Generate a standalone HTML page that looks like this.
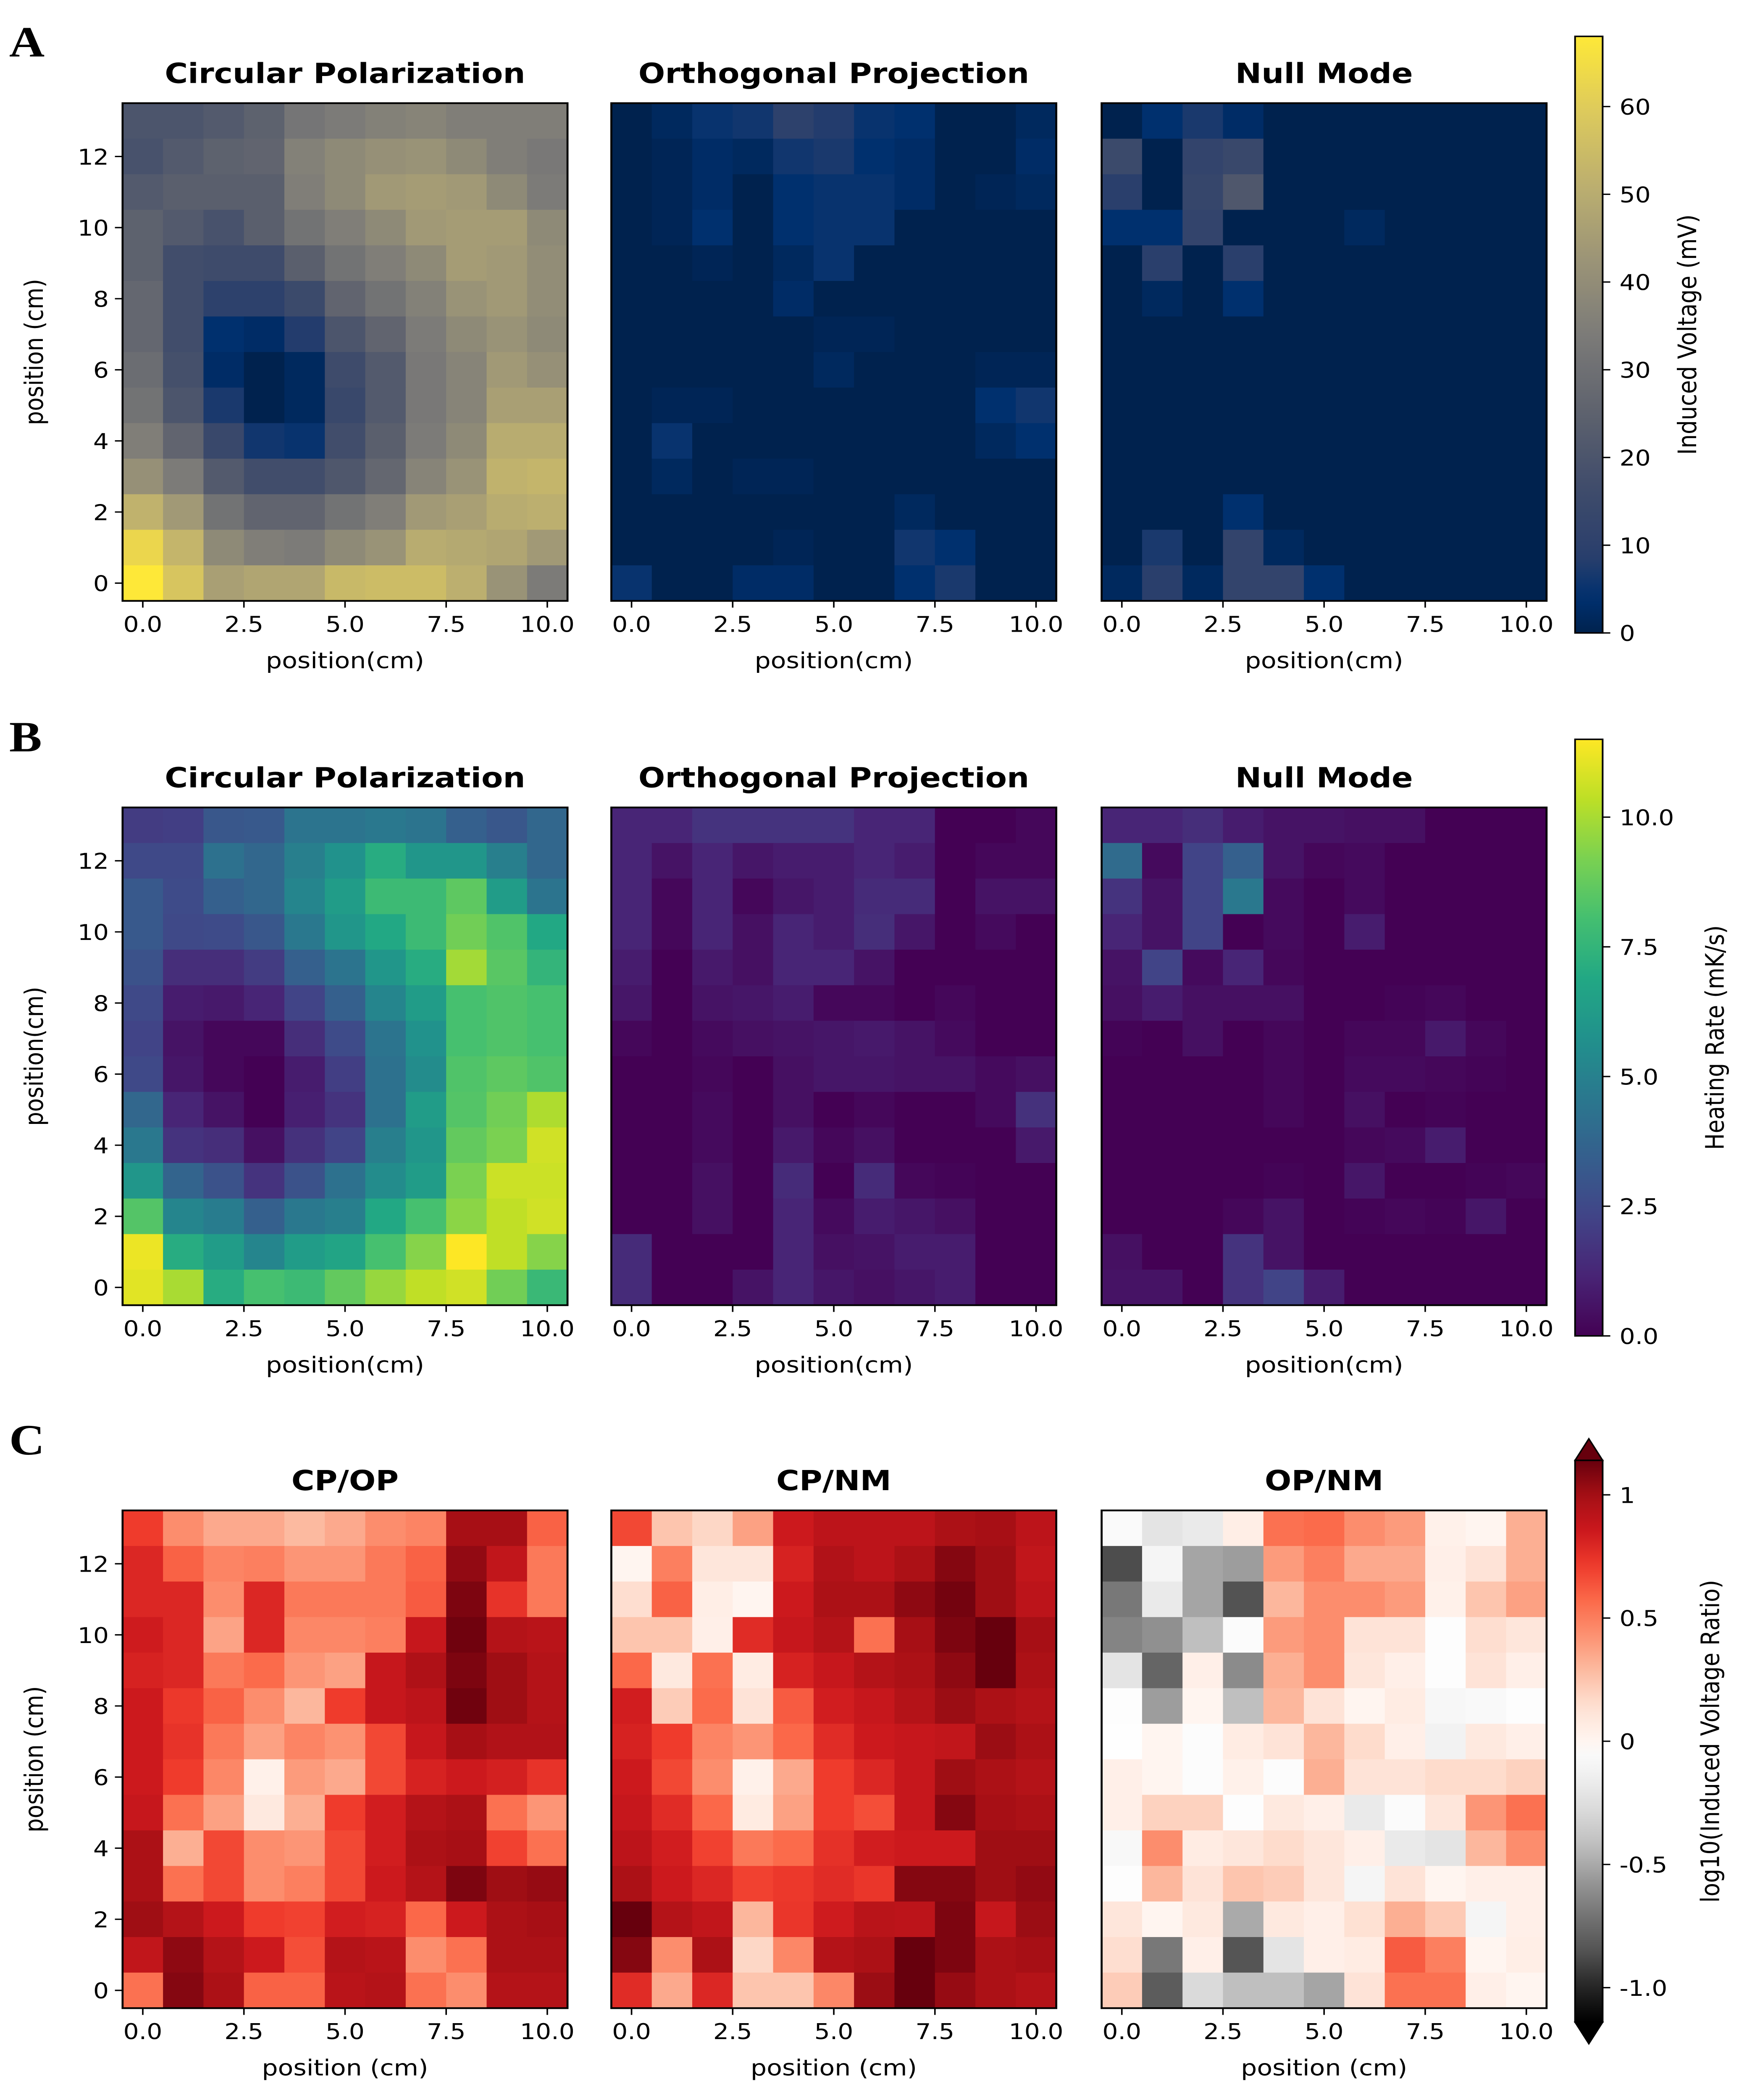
<!DOCTYPE html>
<html><head><meta charset="utf-8"><style>
html,body{margin:0;padding:0;background:#fff;width:100%;height:100%;overflow:hidden;}
svg{display:block;position:absolute;left:0;top:0;width:100vw;height:100vh;}
text{font-family:"DejaVu Sans","Liberation Sans",sans-serif;fill:#000;}
</style></head><body>
<svg id="fig" viewBox="0 0 1135 1559.4" preserveAspectRatio="none" xmlns="http://www.w3.org/2000/svg">
<rect x="0" y="0" width="1135" height="1560" fill="#fff"/>
<defs id="defs"></defs>
</svg>
<script>
// ---------- DATA (rows listed from y=13 at top down to y=0) ----------
const xCats = [0,1,2,3,4,5,6,7,8,9,10];
const yCats = [13,12,11,10,9,8,7,6,5,4,3,2,1,0];
const xTickVals = [0,2.5,5,7.5,10];
const xTickLabels = ["0.0","2.5","5.0","7.5","10.0"];
const yTickVals = [0,2,4,6,8,10,12];
const yTickLabels = ["0","2","4","6","8","10","12"];

const vCP = [
[20,20,22,25,32,34,36,37,35,35,35],
[19,22,25,26,36,39,41,42,39,35,33],
[22,24,24,24,35,39,44,45,44,39,34],
[25,22,19,24,31,35,39,44,45,45,39],
[25,17,16,16,24,31,35,39,45,44,40],
[27,17,10,10,15,26,31,36,42,44,40],
[27,17,4,3,8,20,26,34,39,42,39],
[29,18,3,0,2,16,22,33,37,44,41],
[31,20,7,0,2,14,22,33,37,46,46],
[35,26,14,6,5,17,24,34,39,50,50],
[41,34,22,17,17,21,27,37,42,52,53],
[52,44,31,26,26,31,35,44,46,50,51],
[63,53,39,35,34,39,42,50,49,48,44],
[68,58,46,48,48,54,55,55,51,42,34]];
const vOP = [
[0,2,5,6,10,8,5,4,0,0,2],
[0,1,3,2,6,7,4,3,0,0,3],
[0,1,3,0,4,5,5,3,0,1,2],
[0,1,4,0,4,5,5,0,0,0,0],
[0,0,1,0,2,5,0,0,0,0,0],
[0,0,0,0,3,0,0,0,0,0,0],
[0,0,0,0,0,1,1,0,0,0,0],
[0,0,0,0,0,2,0,0,0,1,1],
[0,1,1,0,0,0,0,0,0,4,6],
[0,5,0,0,0,0,0,0,0,2,4],
[0,2,0,1,1,0,0,0,0,0,0],
[0,0,0,0,0,0,0,2,0,0,0],
[0,0,0,0,1,0,0,6,4,0,0],
[5,0,0,3,3,0,0,4,7,0,0]];
const vNM = [
[0,4,7,3,0,0,0,0,0,0,0],
[15,0,12,14,0,0,0,0,0,0,0],
[9,0,13,21,0,0,0,0,0,0,0],
[4,4,12,0,0,0,2,0,0,0,0],
[0,9,0,9,0,0,0,0,0,0,0],
[0,2,0,4,0,0,0,0,0,0,0],
[0,0,0,0,0,0,0,0,0,0,0],
[0,0,0,0,0,0,0,0,0,0,0],
[0,0,0,0,0,0,0,0,0,0,0],
[0,0,0,0,0,0,0,0,0,0,0],
[0,0,0,0,0,0,0,0,0,0,0],
[0,0,0,4,0,0,0,0,0,0,0],
[0,7,0,12,2,0,0,0,0,0,0],
[2,9,2,12,12,4,0,0,0,0,0]];

const hCP = [
[2.0,2.1,3.1,3.2,4.4,4.4,4.6,4.4,3.5,3.1,3.8],
[2.5,2.5,4.3,3.8,4.9,5.8,7.1,6.0,6.0,4.9,3.8],
[3.2,2.6,3.5,3.8,5.2,6.3,7.8,7.8,8.6,6.3,4.4],
[3.2,2.5,2.6,3.1,4.6,6.0,6.9,7.8,9.0,8.3,6.9],
[2.9,1.5,1.5,2.0,3.5,4.4,6.0,7.1,9.9,8.5,7.5],
[2.5,0.9,0.8,1.2,2.3,3.5,5.2,6.3,8.1,8.3,8.1],
[2.3,0.6,0.2,0.2,1.5,2.6,4.4,5.8,8.1,8.3,8.1],
[2.5,0.7,0.2,0.0,0.9,2.1,4.3,5.5,8.3,8.6,8.3],
[3.8,1.2,0.6,0.0,1.0,1.7,4.3,6.3,8.4,9.0,10.1],
[4.6,1.7,1.5,0.5,1.6,2.3,4.9,6.0,8.7,9.2,10.7],
[6.0,3.7,2.9,1.7,2.9,4.3,5.5,6.3,9.2,10.6,10.6],
[8.4,5.2,4.8,3.5,4.6,4.9,6.9,8.1,9.5,10.4,10.7],
[11.2,7.1,6.3,5.2,6.3,6.7,8.1,9.4,11.5,10.4,9.4],
[11.0,10.0,7.1,8.1,7.8,8.7,9.7,10.4,10.7,9.0,7.7]];
const hOP = [
[1.2,1.2,1.7,1.7,1.7,1.7,1.2,1.2,0,0,0.2],
[1.2,0.6,1.2,0.7,0.9,0.9,1.2,0.9,0,0.2,0.2],
[1.2,0.2,1.2,0.2,0.7,0.9,1.4,1.4,0,0.6,0.6],
[1.2,0.2,1.2,0.5,1.2,0.9,1.5,0.7,0,0.3,0],
[0.9,0,0.8,0.5,1.2,1.2,0.6,0,0,0,0],
[0.7,0,0.6,0.7,0.9,0.2,0.2,0,0.2,0,0],
[0.2,0,0.3,0.5,0.6,0.7,0.8,0.6,0.3,0,0],
[0,0,0.2,0,0.5,0.7,0.7,0.6,0.6,0.3,0.5],
[0,0,0.3,0,0.5,0,0.2,0,0,0.3,1.6],
[0,0,0.3,0,0.8,0.2,0.5,0,0,0,0.8],
[0,0,0.5,0,1.4,0,1.4,0.2,0.1,0,0],
[0,0,0.5,0,1.2,0.3,0.9,0.7,0.5,0,0],
[1.4,0,0,0,1.2,0.5,0.6,0.9,0.9,0,0],
[1.4,0,0,0.6,1.2,0.7,0.5,0.7,0.9,0,0]];
const hNM = [
[1.2,1.2,1.5,0.9,0.6,0.6,0.5,0.5,0,0,0],
[4.0,0.3,2.3,3.5,0.6,0.2,0.3,0,0,0,0],
[1.7,0.6,2.3,4.6,0.3,0,0.3,0,0,0,0],
[1.2,0.6,2.3,0,0.3,0,0.9,0,0,0,0],
[0.6,2.3,0.3,1.2,0.2,0,0,0,0,0,0],
[0.5,0.9,0.5,0.5,0.5,0,0,0.1,0.2,0,0],
[0.1,0,0.5,0,0.2,0,0.2,0.2,0.8,0.2,0],
[0,0,0,0,0.2,0,0.3,0.3,0.2,0.1,0],
[0,0,0,0,0.2,0,0.5,0,0.1,0,0],
[0,0,0,0,0,0,0.2,0.3,0.9,0,0],
[0,0,0,0,0.1,0,0.7,0,0,0.1,0.2],
[0,0,0,0.2,0.6,0,0.1,0.2,0.1,0.7,0],
[0.5,0,0,1.7,0.6,0,0,0,0,0,0],
[0.6,0.6,0,1.7,2.3,0.9,0,0,0,0,0]];

const rCPOP = [
[0.72,0.45,0.35,0.35,0.29,0.35,0.45,0.48,1.0,1.0,0.6],
[0.8,0.6,0.48,0.5,0.42,0.42,0.52,0.6,1.05,0.9,0.52],
[0.8,0.8,0.45,0.8,0.52,0.52,0.52,0.62,1.1,0.75,0.52],
[0.85,0.8,0.37,0.8,0.47,0.47,0.5,0.88,1.13,0.95,0.93],
[0.82,0.8,0.52,0.57,0.42,0.38,0.88,0.97,1.1,1.02,0.95],
[0.86,0.73,0.6,0.45,0.3,0.72,0.88,0.92,1.13,1.02,0.95],
[0.86,0.75,0.52,0.38,0.48,0.43,0.68,0.88,1.0,0.96,0.96],
[0.86,0.72,0.47,0.03,0.4,0.35,0.68,0.82,0.86,0.83,0.75],
[0.88,0.55,0.38,0.08,0.33,0.72,0.84,0.95,0.98,0.55,0.42],
[0.98,0.33,0.68,0.45,0.42,0.68,0.84,0.98,1.0,0.7,0.55],
[0.98,0.55,0.68,0.45,0.5,0.68,0.86,0.95,1.1,1.02,1.04],
[1.02,0.95,0.86,0.72,0.7,0.84,0.82,0.58,0.86,0.98,1.0],
[0.9,1.06,0.95,0.86,0.66,0.95,0.93,0.45,0.55,0.98,0.98],
[0.55,1.08,0.98,0.6,0.6,0.93,0.95,0.55,0.45,0.95,0.95]];
const rCPNM = [
[0.68,0.25,0.18,0.38,0.86,0.92,0.92,0.92,0.98,1.0,0.92],
[0.0,0.5,0.1,0.1,0.82,0.96,0.92,0.98,1.08,1.02,0.9],
[0.15,0.6,0.05,0.0,0.86,0.98,0.98,1.06,1.12,1.02,0.92],
[0.25,0.25,0.04,0.78,0.88,0.95,0.55,1.0,1.1,1.15,1.0],
[0.58,0.08,0.55,0.06,0.82,0.88,0.95,0.98,1.06,1.15,0.98],
[0.84,0.22,0.57,0.12,0.62,0.84,0.88,0.95,1.03,0.98,0.95],
[0.82,0.72,0.48,0.42,0.58,0.78,0.86,0.88,0.9,1.03,0.98],
[0.86,0.68,0.45,0.03,0.35,0.72,0.8,0.88,1.02,0.98,0.95],
[0.88,0.78,0.58,0.07,0.38,0.72,0.66,0.88,1.08,1.0,0.98],
[0.92,0.84,0.7,0.52,0.57,0.76,0.84,0.86,0.86,1.02,1.02],
[0.98,0.86,0.8,0.7,0.73,0.78,0.74,1.08,1.08,1.02,1.05],
[1.15,0.95,0.9,0.3,0.74,0.85,0.93,0.92,1.1,0.88,1.03],
[1.08,0.45,0.98,0.18,0.47,0.95,0.98,1.15,1.1,0.98,1.0],
[0.78,0.35,0.8,0.25,0.25,0.47,1.03,1.15,1.04,0.98,0.95]];
const rOPNM = [
[-0.05,-0.22,-0.18,0.05,0.55,0.57,0.45,0.4,0.03,0.0,0.33],
[-0.88,-0.1,-0.52,-0.55,0.4,0.5,0.35,0.35,0.04,0.12,0.33],
[-0.7,-0.18,-0.52,-0.86,0.3,0.45,0.45,0.4,0.03,0.25,0.38],
[-0.65,-0.6,-0.42,-0.04,0.4,0.45,0.12,0.12,-0.02,0.15,0.1],
[-0.22,-0.78,0.04,-0.62,0.33,0.45,0.1,0.04,-0.02,0.12,0.04],
[-0.02,-0.55,0.0,-0.42,0.3,0.12,0.0,0.06,-0.08,-0.06,-0.02],
[-0.01,0.0,-0.03,0.06,0.12,0.3,0.16,0.04,-0.12,0.08,0.04],
[0.04,0.0,-0.03,0.03,-0.03,0.33,0.12,0.12,0.16,0.16,0.2],
[0.04,0.2,0.2,-0.02,0.08,0.04,-0.18,-0.04,0.1,0.42,0.55],
[-0.07,0.45,0.06,0.1,0.16,0.1,0.04,-0.18,-0.22,0.3,0.45],
[-0.02,0.3,0.12,0.25,0.22,0.1,-0.1,0.12,0.0,0.04,0.04],
[0.1,0.0,0.08,-0.5,0.08,0.04,0.14,0.33,0.23,-0.1,0.04],
[0.15,-0.7,0.04,-0.85,-0.22,0.04,0.06,0.62,0.5,0.0,0.05],
[0.22,-0.82,-0.28,-0.42,-0.42,-0.52,0.12,0.55,0.55,0.04,0.0]];

const cbTicksA = [0,10,20,30,40,50,60];
const cbLabelsA = ["0","10","20","30","40","50","60"];
const cbTicksB = [0,2.5,5,7.5,10];
const cbLabelsB = ["0.0","2.5","5.0","7.5","10.0"];
const cbTicksC = [-1,-0.5,0,0.5,1];
const cbLabelsC = ["-1.0","-0.5","0","0.5","1"];

// ---------- colormaps ----------
function hex(h){return [parseInt(h.substr(1,2),16),parseInt(h.substr(3,2),16),parseInt(h.substr(5,2),16)];}
function mk(stops){const s=stops.map(p=>[p[0],hex(p[1])]);return function(t){t=Math.max(0,Math.min(1,t));for(let i=1;i<s.length;i++){if(t<=s[i][0]){const a=s[i-1],b=s[i];const f=(t-a[0])/(b[0]-a[0]||1);const c=a[1].map((v,k)=>Math.round(v+(b[1][k]-v)*f));return "rgb("+c.join(",")+")";}}const l=s[s.length-1][1];return "rgb("+l.join(",")+")";};}
const cividis=mk([[0,"#00224e"],[0.06,"#00306f"],[0.13,"#2a3f6c"],[0.25,"#414d6b"],[0.375,"#5f636e"],[0.5,"#7c7b78"],[0.625,"#9b9477"],[0.75,"#bcaf6f"],[0.875,"#ddca5c"],[1,"#fee838"]]);
const viridis=mk([[0,"#440154"],[0.1,"#482475"],[0.2,"#414487"],[0.3,"#355f8d"],[0.4,"#2a788e"],[0.5,"#21918c"],[0.6,"#22a884"],[0.7,"#44bf70"],[0.8,"#7ad151"],[0.9,"#bddf26"],[1,"#fde725"]]);
const reds=mk([[0,"#fff5f0"],[0.125,"#fee0d2"],[0.25,"#fcbba1"],[0.375,"#fc9272"],[0.5,"#fb6a4a"],[0.625,"#ef3b2c"],[0.75,"#cb181d"],[0.875,"#a50f15"],[1,"#67000d"]]);
const greys=mk([[0,"#ffffff"],[0.125,"#f0f0f0"],[0.25,"#d9d9d9"],[0.375,"#bdbdbd"],[0.5,"#969696"],[0.625,"#737373"],[0.75,"#525252"],[0.875,"#252525"],[1,"#000000"]]);
function divmap(t){const v=t*2-1;return v>=0?reds(v):greys(-v);}

// ---------- helpers ----------
const NS="http://www.w3.org/2000/svg";
const svg=document.getElementById('fig');
const defs=document.getElementById('defs');
function el(tag,attrs,parent){const e=document.createElementNS(NS,tag);for(const k in attrs)e.setAttribute(k,attrs[k]);(parent||svg).appendChild(e);return e;}
function txt(s,attrs,parent){const e=el('text',attrs,parent);e.textContent=s;return e;}

const colX=[80,399,719];
const CELL=26.4;
const rowTop=[76.6,599.6,1121.6];
const PW=CELL*11, PH=CELL*14;

function xScale(x0,v){return x0+CELL/2+v*CELL;}
function yScale(y0,v){return y0+PH-CELL/2-v*CELL;}

function heatmap(name,x0,y0,data,cmap,vmin,vmax,title,xlab,ylab){
  const g=el('g',{});
  
  
  for(let r=0;r<yCats.length;r++){
    for(let c=0;c<xCats.length;c++){
      const v=data[r][c];
      const rc=el('rect',{x:(xScale(x0,xCats[c])-CELL/2).toFixed(2),y:(yScale(y0,yCats[r])-CELL/2).toFixed(2),width:CELL+0.4,height:CELL+0.4,fill:cmap((v-vmin)/(vmax-vmin))},g);
      
      
    }
  }
  const fr=el('rect',{x:x0,y:y0,width:PW,height:PH,fill:'none',stroke:'#000','stroke-width':1.3},g);
  
  
  for(let i=0;i<xTickVals.length;i++){
    const x=xScale(x0,xTickVals[i]);
    el('line',{x1:x,x2:x,y1:y0+PH,y2:y0+PH+5,stroke:'#000','stroke-width':1},g);
    const t=txt(xTickLabels[i],{x:x,y:y0+PH+23,'text-anchor':'middle','font-size':16},g);
    
    
  }
  const xl=txt(xlab,{x:x0+PW/2,y:y0+PH+50,'text-anchor':'middle','font-size':16.5},g);
  
  
  const tt=txt(title,{x:x0+PW/2,y:y0-15,'text-anchor':'middle','font-size':20.5,'font-weight':'bold'},g);
  
  
  if(ylab){
    for(let i=0;i<yTickVals.length;i++){
      const y=yScale(y0,yTickVals[i]);
      el('line',{x1:x0-5,x2:x0,y1:y,y2:y,stroke:'#000','stroke-width':1},g);
      const t=txt(yTickLabels[i],{x:x0-9,y:y+6,'text-anchor':'end','font-size':16},g);
      
      
    }
    const yl=txt(ylab,{x:0,y:0,'text-anchor':'middle','font-size':16.5,transform:'translate(28,'+(y0+PH/2)+') rotate(-90)'},g);
    
    
  }
}

function colorbar(name,top,bot,vmin,vmax,cmap,ticks,labels,label,labelX,extend,id){
  const g=el('g',{});
  
  
  const grad=el('linearGradient',{id:id,x1:0,y1:1,x2:0,y2:0},defs);
  for(let i=0;i<=40;i++){el('stop',{offset:(i/40),'stop-color':cmap(i/40)},grad);}
  const x=1028,w=18;
  el('rect',{x:x,y:top,width:w,height:bot-top,fill:'url(#'+id+')'},g);
  if(extend){
    el('polygon',{points:x+','+top+' '+(x+w)+','+top+' '+(x+w/2)+','+(top-16),fill:cmap(1),stroke:'#000','stroke-width':1},g);
    el('polygon',{points:x+','+bot+' '+(x+w)+','+bot+' '+(x+w/2)+','+(bot+16),fill:cmap(0),stroke:'#000','stroke-width':1},g);
  }
  el('rect',{x:x,y:top,width:w,height:bot-top,fill:'none',stroke:'#000','stroke-width':1.1},g);
  for(let i=0;i<ticks.length;i++){
    const y=bot-(ticks[i]-vmin)/(vmax-vmin)*(bot-top);
    el('line',{x1:x+w,x2:x+w+5,y1:y,y2:y,stroke:'#000','stroke-width':1},g);
    const t=txt(labels[i],{x:x+w+11,y:y+6,'font-size':16},g);
    
    
  }
  const l=txt(label,{x:0,y:0,'text-anchor':'middle','font-size':16.5,transform:'translate('+labelX+','+((top+bot)/2)+') rotate(-90)'},g);
  
  
}

// ---------- panels ----------
const titles=["Circular Polarization","Orthogonal Projection","Null Mode"];
heatmap('heatmap-a-cp',colX[0],rowTop[0],vCP,cividis,0,68,titles[0],'position(cm)','position (cm)');
heatmap('heatmap-a-op',colX[1],rowTop[0],vOP,cividis,0,68,titles[1],'position(cm)',null);
heatmap('heatmap-a-nm',colX[2],rowTop[0],vNM,cividis,0,68,titles[2],'position(cm)',null);
heatmap('heatmap-b-cp',colX[0],rowTop[1],hCP,viridis,0,11.5,titles[0],'position(cm)','position(cm)');
heatmap('heatmap-b-op',colX[1],rowTop[1],hOP,viridis,0,11.5,titles[1],'position(cm)',null);
heatmap('heatmap-b-nm',colX[2],rowTop[1],hNM,viridis,0,11.5,titles[2],'position(cm)',null);
heatmap('heatmap-c-cpop',colX[0],rowTop[2],rCPOP,divmap,-1.15,1.15,'CP/OP','position (cm)','position (cm)');
heatmap('heatmap-c-cpnm',colX[1],rowTop[2],rCPNM,divmap,-1.15,1.15,'CP/NM','position (cm)',null);
heatmap('heatmap-c-opnm',colX[2],rowTop[2],rOPNM,divmap,-1.15,1.15,'OP/NM','position (cm)',null);

colorbar('colorbar-a',27,470,0,68,cividis,cbTicksA,cbLabelsA,'Induced Voltage (mV)',1107,false,'gA');
colorbar('colorbar-b',549,992,0,11.5,viridis,cbTicksB,cbLabelsB,'Heating Rate  (mK/s)',1125,false,'gB');
colorbar('colorbar-c',1084.4,1501.6,-1.14,1.14,divmap,cbTicksC,cbLabelsC,'log10(Induced Voltage Ratio)',1122,true,'gC');

const letters=[["A",42],["B",558],["C",1080]];
for(const L of letters){
  const t=txt(L[0],{x:6,y:L[1],'font-size':32,'font-weight':'bold',style:'font-family:"Liberation Serif",serif'});
  
  
}
</script>
</body></html>
